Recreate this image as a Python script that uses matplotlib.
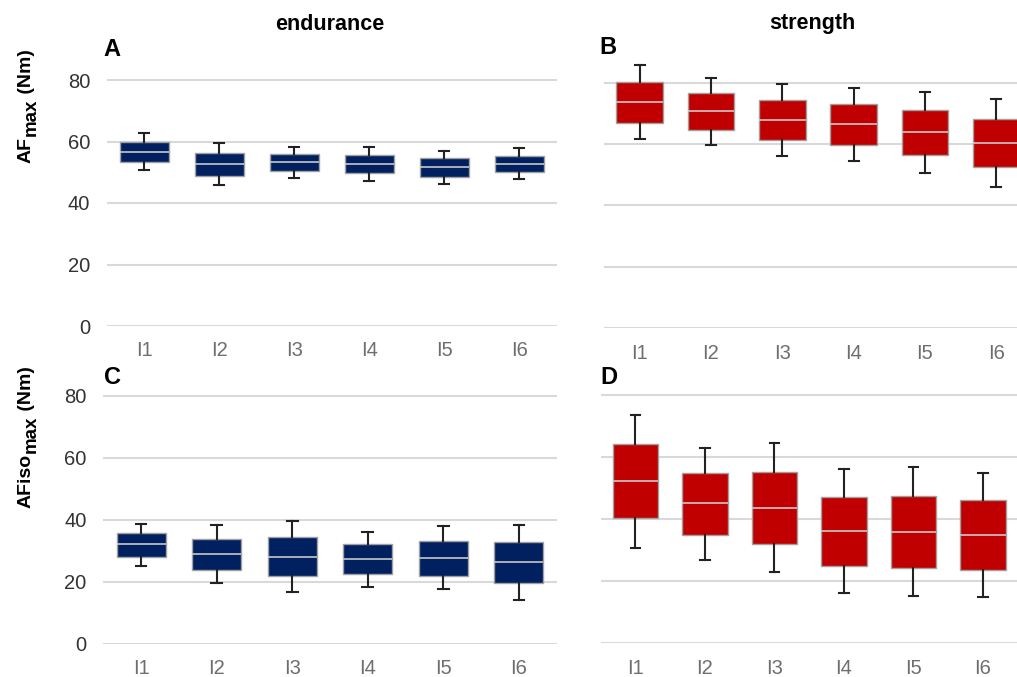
import matplotlib
matplotlib.use("Agg")
import matplotlib.pyplot as plt

plt.rcParams['font.family'] = ['Liberation Sans', 'DejaVu Sans']

categories = ["I1", "I2", "I3", "I4", "I5", "I6"]

# Panel A: endurance AFmax  (whislo, q1, med, q3, whishi)
A_whislo = [50.7, 45.9, 48.2, 47.0, 46.2, 47.7]
A_q1     = [53.4, 48.9, 50.4, 49.7, 48.6, 50.0]
A_med    = [56.7, 52.7, 53.2, 52.8, 51.6, 52.8]
A_q3     = [59.9, 56.4, 55.8, 55.7, 54.5, 55.4]
A_whishi = [62.7, 59.4, 58.1, 58.3, 57.0, 57.8]

# Panel B: strength AFmax
B_whislo = [61.6, 59.8, 56.1, 54.5, 50.5, 46.1]
B_q1     = [67.0, 64.7, 61.3, 59.7, 56.4, 52.4]
B_med    = [73.6, 70.8, 67.9, 66.4, 63.9, 60.4]
B_q3     = [80.3, 76.7, 74.5, 73.1, 71.1, 68.2]
B_whishi = [85.8, 81.6, 79.7, 78.4, 77.1, 74.6]

# Panel C: endurance AFiso_max
C_whislo = [25.1, 19.7, 16.7, 18.4, 17.5, 14.1]
C_q1     = [28.1, 23.9, 21.7, 22.5, 21.9, 19.5]
C_med    = [32.1, 29.0, 28.1, 27.2, 27.6, 26.3]
C_q3     = [35.6, 33.9, 34.3, 32.2, 33.1, 32.7]
C_whishi = [38.6, 38.2, 39.6, 36.0, 37.9, 38.3]

# Panel D: strength AFiso_max
D_whislo = [30.7, 27.0, 23.0, 16.1, 15.2, 14.9]
D_q1     = [40.4, 35.0, 32.0, 24.9, 24.3, 23.7]
D_med    = [52.4, 45.2, 43.7, 36.1, 36.0, 35.0]
D_q3     = [64.3, 55.0, 55.3, 47.3, 47.6, 46.2]
D_whishi = [73.6, 63.0, 64.5, 56.3, 56.9, 55.0]

yticks = [0, 20, 40, 60, 80]

BLUE = "#002060"
RED = "#C00000"

W, H = 1017, 677
fig = plt.figure(figsize=(W / 100, H / 100), dpi=100)

YMAX = 90


def make_ax(x0, x1, y0, y80):
    ppu = (y0 - y80) / 80.0
    top = y0 - YMAX * ppu
    ax = fig.add_axes([x0 / W, (H - y0) / H, (x1 - x0) / W, (y0 - top) / H])
    return ax


def draw(ax, lo, q1, med, q3, hi, color, show_y):
    stats = []
    for i in range(len(categories)):
        stats.append(dict(med=med[i], q1=q1[i], q3=q3[i], whislo=lo[i],
                          whishi=hi[i], fliers=[], label=categories[i]))
    ax.bxp(stats, positions=range(len(categories)), widths=0.65,
           patch_artist=True, showfliers=False, capwidths=0.14,
           boxprops=dict(facecolor=color, edgecolor="#A0A0A0", linewidth=1.0),
           medianprops=dict(color="#C8C8C8", linewidth=1.2),
           whiskerprops=dict(color="#222222", linewidth=1.5),
           capprops=dict(color="#222222", linewidth=1.5))
    ax.set_xlim(-0.5, 5.5)
    ax.set_ylim(0, YMAX)
    ax.set_yticks(yticks)
    ax.grid(axis="y", color="#D9D9D9", linewidth=1.5)
    ax.set_axisbelow(True)
    for s in ax.spines.values():
        s.set_visible(False)
    ax.tick_params(axis="both", length=0)
    ax.tick_params(axis="x", pad=11, labelsize=14.5, labelcolor="#6E6E6E")
    ax.tick_params(axis="y", pad=12, labelsize=14.5, labelcolor="#333333")
    ax.set_xticks(range(len(categories)))
    ax.set_xticklabels(categories)
    if not show_y:
        ax.set_yticklabels([])


axA = make_ax(106.7, 556.7, 326.0, 80.0)
draw(axA, A_whislo, A_q1, A_med, A_q3, A_whishi, BLUE, True)
axB = make_ax(604.0, 1032.0, 328.3, 82.7)
draw(axB, B_whislo, B_q1, B_med, B_q3, B_whishi, RED, False)
axC = make_ax(103.3, 556.7, 643.7, 395.7)
draw(axC, C_whislo, C_q1, C_med, C_q3, C_whishi, BLUE, True)
axD = make_ax(600.7, 1017.7, 643.3, 395.3)
draw(axD, D_whislo, D_q1, D_med, D_q3, D_whishi, RED, False)

# column titles
fig.text(330 / W, 1 - 24 / H, "endurance", ha="center", va="center",
         fontsize=15.5, fontweight="bold")
fig.text(812 / W, 1 - 24 / H, "strength", ha="center", va="center",
         fontsize=15.5, fontweight="bold")

# panel letters
for lab, x, y in [("A", 103, 49), ("B", 599, 48), ("C", 104, 377), ("D", 600, 377)]:
    fig.text(x / W, 1 - y / H, lab, ha="left", va="center",
             fontsize=17, fontweight="bold")

# y labels built from pieces (main text + subscript), running upward
renderer = fig.canvas.get_renderer()


def ylabel_pieces(pieces, y_bottom):
    y = y_bottom
    for txt, size, xb, gap in pieces:
        t = fig.text(xb / W, 1 - y / H, txt, rotation=90, rotation_mode="anchor",
                     ha="left", va="baseline", fontsize=size, fontweight="bold")
        bb = t.get_window_extent(renderer=renderer)
        y -= bb.height + gap


ylabel_pieces([("AF", 14, 31, 1), ("max", 13.5, 36, 0), (" (Nm)", 14, 31, 0)], 163)
ylabel_pieces([("AFiso", 14, 31, 1), ("max", 13.5, 36, 0), (" (Nm)", 14, 31, 0)], 508)

fig.savefig("out.png", dpi=100)
